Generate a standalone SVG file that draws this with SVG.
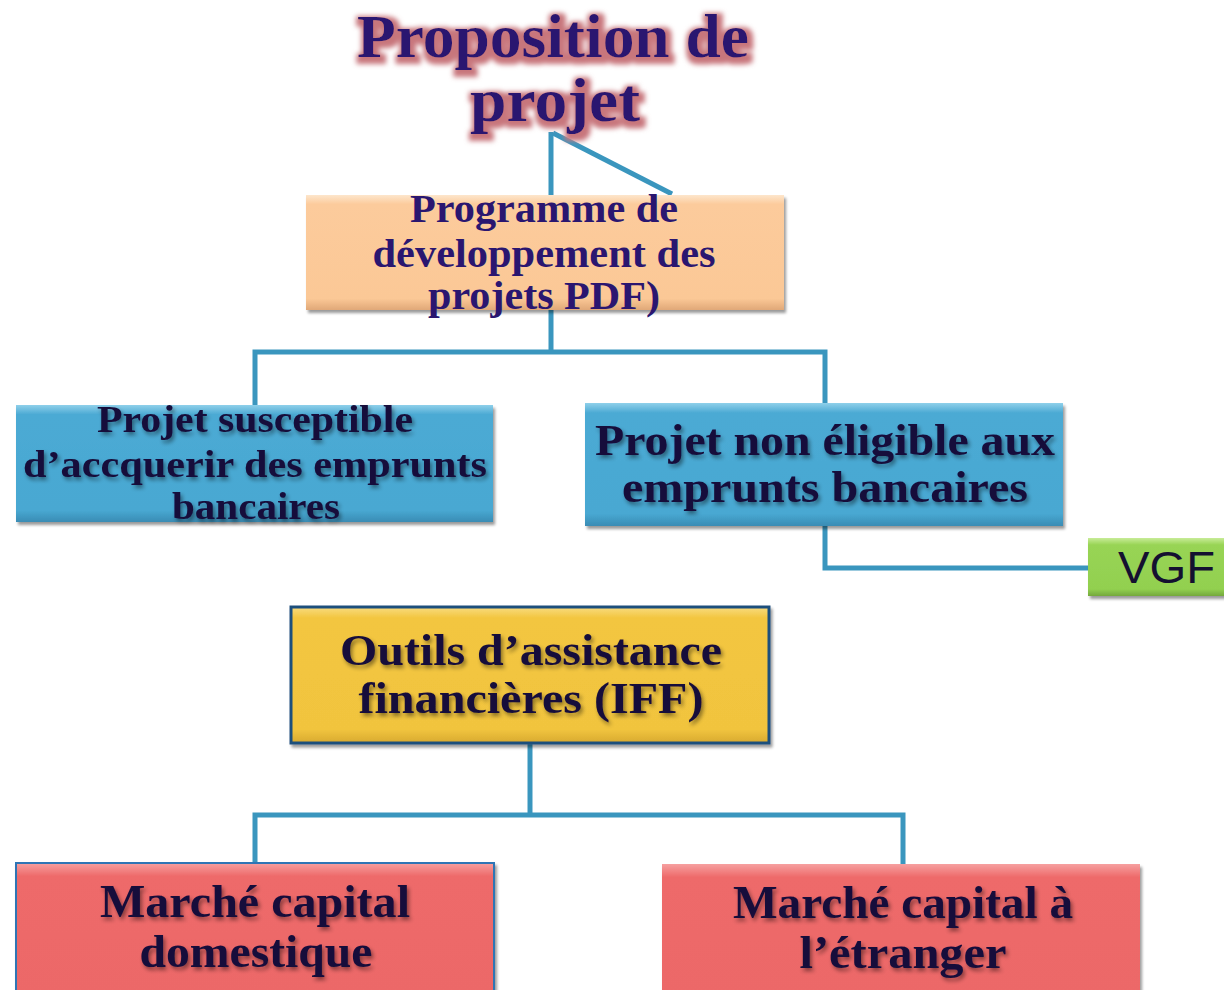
<svg xmlns="http://www.w3.org/2000/svg" width="1224" height="990" viewBox="0 0 1224 990">
<defs>
<filter id="glow" x="-10%" y="-20%" width="120%" height="140%">
<feMorphology in="SourceAlpha" operator="dilate" radius="4" result="d"/>
<feGaussianBlur in="d" stdDeviation="2.5" result="b"/>
<feFlood flood-color="#c8767c"/>
<feComposite in2="b" operator="in" result="g"/>
<feOffset in="g" dx="2" dy="3" result="go"/>
<feMerge><feMergeNode in="go"/><feMergeNode in="SourceGraphic"/></feMerge>
</filter>
<filter id="tsh" x="-10%" y="-20%" width="120%" height="150%">
<feGaussianBlur in="SourceAlpha" stdDeviation="2" result="b"/>
<feOffset in="b" dx="2" dy="3" result="o"/>
<feComponentTransfer in="o" result="s"><feFuncA type="linear" slope="0.45"/></feComponentTransfer>
<feMerge><feMergeNode in="s"/><feMergeNode in="SourceGraphic"/></feMerge>
</filter>
<filter id="bsh" x="-5%" y="-10%" width="110%" height="125%">
<feGaussianBlur in="SourceAlpha" stdDeviation="1.5" result="b"/>
<feOffset in="b" dx="2" dy="3" result="o"/>
<feComponentTransfer in="o" result="s"><feFuncA type="linear" slope="0.4"/></feComponentTransfer>
<feMerge><feMergeNode in="s"/><feMergeNode in="SourceGraphic"/></feMerge>
</filter>
<linearGradient id="gPeach" x1="0" y1="0" x2="0" y2="1">
<stop offset="0" stop-color="#fde6cc"/><stop offset="0.08" stop-color="#fccb9c"/><stop offset="0.9" stop-color="#fbc896"/><stop offset="1" stop-color="#e0a878"/>
</linearGradient>
<linearGradient id="gBlue" x1="0" y1="0" x2="0" y2="1">
<stop offset="0" stop-color="#8fd0ea"/><stop offset="0.08" stop-color="#4caad4"/><stop offset="0.9" stop-color="#48a8d2"/><stop offset="1" stop-color="#3a8cb4"/>
</linearGradient>
<linearGradient id="gGreen" x1="0" y1="0" x2="0" y2="1">
<stop offset="0" stop-color="#c8ec98"/><stop offset="0.12" stop-color="#98d454"/><stop offset="0.88" stop-color="#92d050"/><stop offset="1" stop-color="#74a83c"/>
</linearGradient>
<linearGradient id="gGold" x1="0" y1="0" x2="0" y2="1">
<stop offset="0" stop-color="#f8dc80"/><stop offset="0.08" stop-color="#f3c640"/><stop offset="0.9" stop-color="#f1c43e"/><stop offset="1" stop-color="#d8aa30"/>
</linearGradient>
<linearGradient id="gRed" x1="0" y1="0" x2="0" y2="1">
<stop offset="0" stop-color="#f6a0a0"/><stop offset="0.1" stop-color="#ee6a6a"/><stop offset="1" stop-color="#ec6868"/>
</linearGradient>
<style>
.conn{fill:none;stroke:#3a96be;stroke-width:5;stroke-linejoin:miter}
.t{font-family:"Liberation Serif","Times New Roman",serif;font-weight:bold;fill:#160c3a;text-anchor:middle}
.tp{fill:#2a1670}
.ttl{font-family:"Liberation Serif","Times New Roman",serif;font-weight:bold;fill:#2a1670;text-anchor:middle;font-size:62px}
.vgf{font-family:"Liberation Sans",Arial,sans-serif;fill:#141030;font-size:44px}
</style>
</defs>
<rect width="1224" height="990" fill="#ffffff"/>

<g id="connectors">
<path class="conn" d="M551,132 V352"/>
<path class="conn" d="M553,133 L672,194"/>
<path class="conn" d="M255,405 V352 H825 V403"/>
<path class="conn" d="M825,526 V568 H1090"/>
<path class="conn" d="M530,744 V815"/>
<path class="conn" d="M255,862 V815 H903 V864"/>
</g>

<g id="title" filter="url(#glow)">
<text class="ttl" x="553" y="57" textLength="392" lengthAdjust="spacingAndGlyphs">Proposition de</text>
<text class="ttl" x="555" y="121" textLength="170" lengthAdjust="spacingAndGlyphs">projet</text>
</g>

<g id="node-pdf">
<rect x="306" y="195" width="478" height="115" fill="url(#gPeach)" filter="url(#bsh)"/>
<g class="t tp" font-size="40">
<text x="544" y="222" textLength="268" lengthAdjust="spacingAndGlyphs">Programme de</text>
<text x="544" y="267" textLength="343" lengthAdjust="spacingAndGlyphs">développement des</text>
<text x="544" y="309" textLength="232" lengthAdjust="spacingAndGlyphs">projets PDF)</text>
</g>
</g>

<g id="node-susceptible">
<rect x="16" y="405" width="477" height="117" fill="url(#gBlue)" filter="url(#bsh)"/>
<g class="t" font-size="37" filter="url(#tsh)">
<text x="255" y="432" textLength="316" lengthAdjust="spacingAndGlyphs">Projet susceptible</text>
<text x="255" y="477" textLength="464" lengthAdjust="spacingAndGlyphs">d’accquerir des emprunts</text>
<text x="256" y="519" textLength="168" lengthAdjust="spacingAndGlyphs">bancaires</text>
</g>
</g>

<g id="node-non-eligible">
<rect x="585" y="403" width="478" height="123" fill="url(#gBlue)" filter="url(#bsh)"/>
<g class="t" font-size="44" filter="url(#tsh)">
<text x="825" y="455" textLength="460" lengthAdjust="spacingAndGlyphs">Projet non éligible aux</text>
<text x="825" y="502" textLength="406" lengthAdjust="spacingAndGlyphs">emprunts bancaires</text>
</g>
</g>

<g id="node-vgf">
<rect x="1088" y="538" width="140" height="58" fill="url(#gGreen)" filter="url(#bsh)"/>
<text class="vgf" x="1118" y="583" textLength="97" lengthAdjust="spacingAndGlyphs">VGF</text>
</g>

<g id="node-iff">
<rect x="291" y="607" width="478" height="136" fill="url(#gGold)" stroke="#1f4f7c" stroke-width="3" filter="url(#bsh)"/>
<g class="t" font-size="45" filter="url(#tsh)">
<text x="531" y="665" textLength="382" lengthAdjust="spacingAndGlyphs">Outils d’assistance</text>
<text x="531" y="713" textLength="345" lengthAdjust="spacingAndGlyphs">financières (IFF)</text>
</g>
</g>

<g id="node-domestique">
<rect x="16" y="863" width="478" height="132" fill="url(#gRed)" stroke="#2f74b5" stroke-width="2" filter="url(#bsh)"/>
<g class="t" font-size="46" filter="url(#tsh)">
<text x="255" y="917" textLength="310" lengthAdjust="spacingAndGlyphs">Marché capital</text>
<text x="256" y="967" textLength="233" lengthAdjust="spacingAndGlyphs">domestique</text>
</g>
</g>

<g id="node-etranger">
<rect x="662" y="864" width="478" height="132" fill="url(#gRed)" filter="url(#bsh)"/>
<g class="t" font-size="46" filter="url(#tsh)">
<text x="903" y="918" textLength="340" lengthAdjust="spacingAndGlyphs">Marché capital à</text>
<text x="903" y="968" textLength="207" lengthAdjust="spacingAndGlyphs">l’étranger</text>
</g>
</g>
</svg>
